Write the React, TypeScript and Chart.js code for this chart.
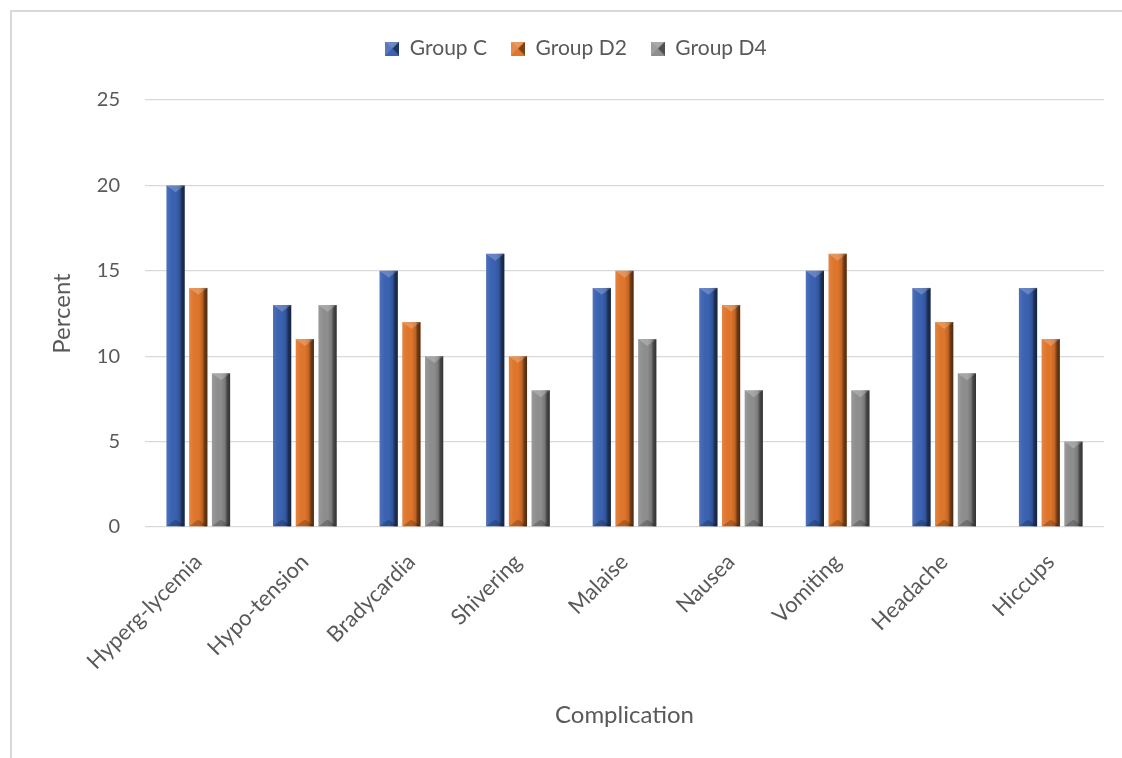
import React, { useEffect, useRef } from "react";
import { Chart, registerables } from "chart.js";

Chart.register(...registerables);

const categories = [
  "Hyperg-lycemia",
  "Hypo-tension",
  "Bradycardia",
  "Shivering",
  "Malaise",
  "Nausea",
  "Vomiting",
  "Headache",
  "Hiccups",
];
const groupC = [20, 13, 15, 16, 14, 14, 15, 14, 14];
const groupD2 = [14, 11, 12, 10, 15, 13, 16, 12, 11];
const groupD4 = [9, 13, 10, 8, 11, 8, 8, 9, 5];
const seriesNames = ["Group C", "Group D2", "Group D4"];
const seriesColors = ["#3A62B2", "#E0762B", "#8E8E8E"];
const yTicks = [0, 5, 10, 15, 20, 25];

const FONT = "Lato, 'Liberation Sans', sans-serif";
const TEXT = "#595959";
const GRID = "#D9D9D9";

function makeLegendIcon(color: string): HTMLCanvasElement {
  const s = 14;
  const c = document.createElement("canvas");
  c.width = s;
  c.height = s;
  const ctx = c.getContext("2d")!;
  ctx.fillStyle = color;
  ctx.fillRect(0, 0, s, s);
  ctx.beginPath();
  ctx.moveTo(0, 0);
  ctx.lineTo(s / 2, s / 2);
  ctx.lineTo(0, s);
  ctx.closePath();
  ctx.fillStyle = "rgba(255,255,255,0.15)";
  ctx.fill();
  ctx.beginPath();
  ctx.moveTo(s, 0);
  ctx.lineTo(s / 2, s / 2);
  ctx.lineTo(s, s);
  ctx.closePath();
  ctx.fillStyle = "rgba(0,0,0,0.45)";
  ctx.fill();
  ctx.beginPath();
  ctx.moveTo(0, 0);
  ctx.lineTo(s, 0);
  ctx.lineTo(s / 2, s / 2);
  ctx.closePath();
  ctx.fillStyle = "rgba(255,255,255,0.25)";
  ctx.fill();
  return c;
}

const bevelPlugin = {
  id: "bevel",
  afterDatasetsDraw(chart: any) {
    const ctx = chart.ctx as CanvasRenderingContext2D;
    ctx.save();
    chart.data.datasets.forEach((_ds: any, di: number) => {
      const meta = chart.getDatasetMeta(di);
      if (meta.hidden) return;
      meta.data.forEach((bar: any) => {
        const { x, y, base, width } = bar.getProps(["x", "y", "base", "width"], true);
        const l = x - width / 2;
        const r = x + width / 2;
        const top = Math.min(y, base);
        const bot = Math.max(y, base);
        const g = ctx.createLinearGradient(l, 0, r, 0);
        g.addColorStop(0, "rgba(255,255,255,0.10)");
        g.addColorStop(0.12, "rgba(255,255,255,0.06)");
        g.addColorStop(0.5, "rgba(0,0,0,0)");
        g.addColorStop(0.72, "rgba(0,0,0,0.15)");
        g.addColorStop(0.84, "rgba(0,0,0,0.5)");
        g.addColorStop(1, "rgba(0,0,0,0.65)");
        ctx.fillStyle = g;
        ctx.fillRect(l, top, width, bot - top);
        const h = Math.min(width * 0.38, (bot - top) / 2);
        ctx.beginPath();
        ctx.moveTo(l, top);
        ctx.lineTo(r, top);
        ctx.lineTo(x, top + h);
        ctx.closePath();
        ctx.fillStyle = "rgba(255,255,255,0.22)";
        ctx.fill();
        ctx.beginPath();
        ctx.moveTo(l, bot);
        ctx.lineTo(r, bot);
        ctx.lineTo(x, bot - h);
        ctx.closePath();
        ctx.fillStyle = "rgba(0,0,0,0.2)";
        ctx.fill();
      });
    });
    ctx.restore();
  },
};

const legendHeightPlugin = {
  id: "legendHeight",
  afterInit(chart: any) {
    const lg = chart.legend;
    if (!lg) return;
    const orig = lg.fit.bind(lg);
    lg.fit = () => {
      orig();
      lg.height = 86;
    };
    const origDraw = lg.draw.bind(lg);
    lg.draw = () => {
      const ctx = chart.ctx as CanvasRenderingContext2D;
      ctx.save();
      ctx.translate(19, 0);
      origDraw();
      ctx.restore();
    };
  },
};

export default function App() {
  const ref = useRef<HTMLCanvasElement>(null);

  useEffect(() => {
    if (!ref.current) return;
    const series = [groupC, groupD2, groupD4];
    const chart = new Chart(ref.current, {
      type: "bar",
      data: {
        labels: categories,
        datasets: series.map((d, i) => ({
          label: seriesNames[i],
          data: d,
          backgroundColor: seriesColors[i],
          borderWidth: 0,
          categoryPercentage: 0.64,
          barPercentage: 0.8,
          pointStyle: makeLegendIcon(seriesColors[i]) as any,
        })),
      },
      options: {
        animation: false,
        responsive: false,
        maintainAspectRatio: false,
        layout: { padding: { top: 14, left: 10, right: 18, bottom: 20 } },
        plugins: {
          tooltip: { enabled: false },
          legend: {
            position: "top",
            align: "center",
            labels: {
              usePointStyle: true,
              boxWidth: 14,
              boxHeight: 14,
              padding: 24,
              color: TEXT,
              font: { family: FONT, size: 21 },
            },
          },
        },
        scales: {
          x: {
            grid: { display: false },
            border: { display: false },
            ticks: {
              color: TEXT,
              font: { family: FONT, size: 22 },
              maxRotation: 45,
              minRotation: 45,
              padding: 14,
            },
            title: {
              display: true,
              text: "Complication",
              color: TEXT,
              font: { family: FONT, size: 24 },
              padding: { top: 4, bottom: 8 },
            },
            afterFit(scale: any) {
              scale.height = 758 - 527 - 20;
            },
          },
          y: {
            min: 0,
            max: 25,
            afterBuildTicks(scale: any) {
              scale.ticks = yTicks.map((v) => ({ value: v }));
            },
            grid: { color: GRID, lineWidth: 1.3, drawTicks: false },
            border: { display: false },
            ticks: {
              color: TEXT,
              font: { family: FONT, size: 20 },
              padding: 25,
            },
            title: {
              display: true,
              text: "Percent",
              color: TEXT,
              font: { family: FONT, size: 24 },
              padding: { top: 38, bottom: 4 },
            },
            afterFit(scale: any) {
              scale.width = 145 - 10;
            },
          },
        },
      },
      plugins: [bevelPlugin, legendHeightPlugin],
    });
    return () => chart.destroy();
  }, []);

  return (
    <div style={{ position: "absolute", left: 0, top: 0, width: 1122, height: 758, background: "#fff" }}>
      <div
        style={{
          position: "absolute",
          left: 10,
          top: 10,
          width: 1112,
          height: 748,
          borderLeft: `2px solid ${GRID}`,
          borderTop: `2px solid ${GRID}`,
          boxSizing: "border-box",
        }}
      />
      <canvas ref={ref} width={1122} height={758} style={{ position: "absolute", left: 0, top: 0, width: 1122, height: 758 }} />
    </div>
  );
}
